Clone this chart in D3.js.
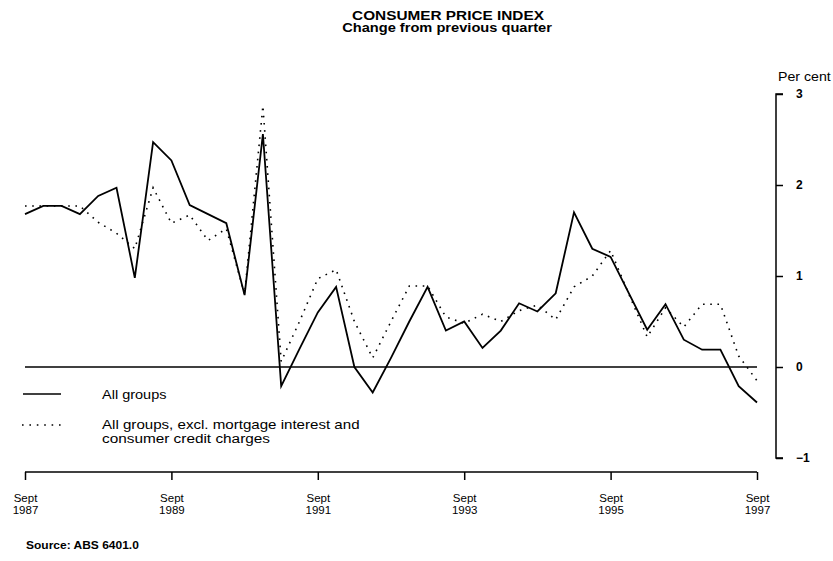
<!DOCTYPE html>
<html><head><meta charset="utf-8">
<script src="https://cdn.jsdelivr.net/npm/d3@7"></script>
<style>
body{margin:0;background:#fff;}
svg{font-family:"Liberation Sans",Arial,sans-serif;}
</style></head>
<body><svg id="c" width="833" height="561"></svg>
<script>
const quarters = ["Sep-87","Dec-87","Mar-88","Jun-88","Sep-88","Dec-88","Mar-89","Jun-89","Sep-89","Dec-89",
"Mar-90","Jun-90","Sep-90","Dec-90","Mar-91","Jun-91","Sep-91","Dec-91","Mar-92","Jun-92",
"Sep-92","Dec-92","Mar-93","Jun-93","Sep-93","Dec-93","Mar-94","Jun-94","Sep-94","Dec-94",
"Mar-95","Jun-95","Sep-95","Dec-95","Mar-96","Jun-96","Sep-96","Dec-96","Mar-97","Jun-97","Sep-97"];
const allGroups = [1.68,1.77,1.77,1.68,1.88,1.97,0.98,2.47,2.27,1.78,1.68,1.58,0.79,2.56,-0.21,0.2,0.6,0.88,0.0,-0.28,0.1,0.5,0.88,0.4,0.5,0.21,0.4,0.7,0.61,0.81,1.7,1.3,1.21,0.81,0.41,0.69,0.3,0.19,0.19,-0.21,-0.39];
const exclMortgage = [1.77,1.77,1.77,1.77,1.59,1.47,1.3,1.97,1.58,1.67,1.39,1.52,0.8,2.87,0.06,0.5,0.97,1.07,0.5,0.1,0.5,0.89,0.89,0.55,0.48,0.58,0.5,0.62,0.68,0.52,0.88,1.0,1.28,0.8,0.33,0.65,0.44,0.69,0.69,0.12,-0.15];
const xTickQuarters = ["Sep-87","Sep-89","Sep-91","Sep-93","Sep-95","Sep-97"];
const xTickLabels = [["Sept","1987"],["Sept","1989"],["Sept","1991"],["Sept","1993"],["Sept","1995"],["Sept","1997"]];
const yTicks = [-1,0,1,2,3];
const seriesNames = ["All groups","All groups, excl. mortgage interest and","consumer credit charges"];

const svg = d3.select("#c");
const x = d3.scalePoint().domain(quarters).range([25,757]);
const y = d3.scaleLinear().domain([-1,3]).range([458,94]);

function stretchText(px, py, str, size, weight, sx, anchor){
  const g = svg.append("g").attr("transform",`translate(${px},${py})`);
  g.append("text").attr("transform",`scale(${sx},1)`).attr("font-size",size)
    .attr("font-weight",weight||"normal").attr("text-anchor",anchor||"start")
    .attr("fill","#000").text(str);
  return g;
}

// title
stretchText(448,20,"CONSUMER PRICE INDEX",12,"bold",1.28,"middle");
stretchText(447,32,"Change from previous quarter",12,"bold",1.22,"middle");

// zero line
svg.append("line").attr("x1",x(quarters[0])).attr("x2",x(quarters[quarters.length-1]))
  .attr("y1",y(0)).attr("y2",y(0)).attr("stroke","#000").attr("stroke-width",1.5);

// y axis on right
const yAxis = d3.axisRight(y).tickValues(yTicks).tickSize(7).tickPadding(13).tickFormat(d3.format("d"));
const gy = svg.append("g").attr("transform","translate(776,0)").call(yAxis);
gy.select(".domain").attr("d",`M7,${y(3)}H0V${y(-1)}H7`).attr("stroke-width",1.5);
gy.selectAll(".tick line").attr("stroke-width",1.5);
gy.selectAll(".tick text").attr("font-size",12).attr("font-weight","bold")
  .attr("font-family","Liberation Sans, Arial, sans-serif").attr("fill","#000");
stretchText(778,81,"Per cent",12,"normal",1.18,"start");

// x axis bottom
const xAxis = d3.axisBottom(x).tickValues(xTickQuarters).tickSize(8).tickFormat("");
const gx = svg.append("g").attr("transform","translate(0,472)").call(xAxis);
gx.select(".domain").attr("d",`M${x(quarters[0])},0H${x(quarters[quarters.length-1])}`).attr("stroke-width",1.5);
gx.selectAll(".tick line").attr("stroke-width",1.5);
gx.selectAll(".tick").each(function(d,i){
  const t = d3.select(this).append("text").attr("fill","#000").attr("font-size",11.5)
    .attr("text-anchor","middle").attr("font-family","Liberation Sans, Arial, sans-serif");
  t.append("tspan").attr("x",0).attr("y",30).text(xTickLabels[i][0]);
  t.append("tspan").attr("x",0).attr("y",42).text(xTickLabels[i][1]);
});

// lines
const line = d3.line().x((d,i)=>x(quarters[i])).y(d=>y(d));
svg.append("path").datum(exclMortgage).attr("d",line).attr("fill","none")
  .attr("stroke","#000").attr("stroke-width",1.6).attr("stroke-dasharray","1.6,5.6");
svg.append("path").datum(allGroups).attr("d",line).attr("fill","none")
  .attr("stroke","#000").attr("stroke-width",1.8).attr("stroke-linejoin","miter");

// legend
svg.append("line").attr("x1",23).attr("x2",61).attr("y1",394).attr("y2",394)
  .attr("stroke","#000").attr("stroke-width",1.6);
stretchText(102,399,seriesNames[0],12,"normal",1.21,"start");
svg.append("line").attr("x1",22).attr("x2",62).attr("y1",425).attr("y2",425)
  .attr("stroke","#000").attr("stroke-width",1.4).attr("stroke-dasharray","1.6,5.8");
stretchText(102,429,seriesNames[1],12,"normal",1.26,"start");
stretchText(102,443,seriesNames[2],12,"normal",1.28,"start");

// source
stretchText(26,549,"Source: ABS 6401.0",10,"bold",1.2,"start");
</script></body></html>
